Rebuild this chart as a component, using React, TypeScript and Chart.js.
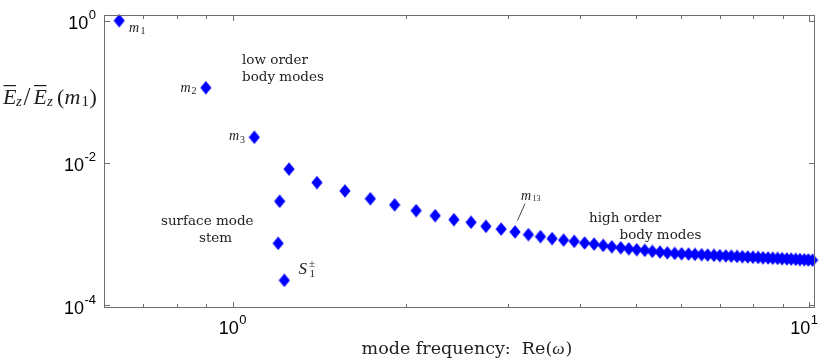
import React, { useEffect, useRef } from "react";
import { Chart, registerables } from "chart.js";

Chart.register(...registerables);

// ---- data ----
const lowOrderFreq = [0.636, 0.899, 1.091];
const lowOrderEz = [1.0, 0.114, 0.0229];

const surfaceFreq = [1.253, 1.207, 1.2, 1.23];
const surfaceEz = [0.00818, 0.00288, 0.000738, 0.000223];

const highOrderFreq = [
  1.401, 1.567, 1.734, 1.911, 2.082, 2.247, 2.421, 2.593, 2.751, 2.924, 3.09, 3.26, 3.421, 3.583,
  3.752, 3.914, 4.08, 4.238, 4.395, 4.548, 4.714, 4.867, 5.024, 5.188, 5.348, 5.514, 5.678, 5.848,
  6.01, 6.18, 6.34, 6.51, 6.67, 6.84, 7.0, 7.17, 7.33, 7.5, 7.66, 7.83, 7.99, 8.16, 8.32, 8.49,
  8.65, 8.82, 8.98, 9.15, 9.31, 9.48, 9.64, 9.81, 9.97, 10.14,
];
const highOrderEz = [
  0.00528, 0.00403, 0.00313, 0.00257, 0.00213, 0.00181, 0.00159, 0.00146, 0.00128, 0.00117,
  0.00107, 0.00098, 0.000918, 0.000861, 0.00082, 0.000787, 0.000747, 0.000721, 0.000691, 0.00066,
  0.000639, 0.000619, 0.0006, 0.000588, 0.000569, 0.000556, 0.000543, 0.000533, 5.27e-4, 5.21e-4,
  5.16e-4, 5.11e-4, 5.06e-4, 5.01e-4, 4.96e-4, 4.92e-4, 4.88e-4, 4.83e-4, 4.79e-4, 4.75e-4,
  4.71e-4, 4.67e-4, 4.63e-4, 4.6e-4, 4.56e-4, 4.53e-4, 4.5e-4, 4.46e-4, 4.43e-4, 4.4e-4, 4.37e-4,
  4.34e-4, 4.31e-4, 4.28e-4,
];

const xMajorTicks = [1, 10];
const xMajorExponents = ["0", "1"];
const xMinorTicks = [0.7, 0.8, 0.9, 2, 3, 4, 5, 6, 7, 8, 9];
const yMajorTicks = [1, 0.01, 0.0001];
const yMajorExponents = ["0", "-2", "-4"];

const xTitle = "mode frequency:  Re(";
const xTitleSymbol = "ω";

const AXIS_COLOR = "#6e6e6e";
const TEXT_COLOR = "#1e1e1e";
const MARK_COLOR = "#0000ff";
const SANS = '"Liberation Sans", Arial, sans-serif';
const SERIF = '"DejaVu Serif", serif';
const MATH = '"Liberation Serif", "Times New Roman", serif';

function makeDiamond(): HTMLCanvasElement {
  const c = document.createElement("canvas");
  c.width = 12;
  c.height = 14;
  const g = c.getContext("2d")!;
  g.fillStyle = MARK_COLOR;
  g.beginPath();
  g.moveTo(6, 0.3);
  g.lineTo(11.6, 7);
  g.lineTo(6, 13.7);
  g.lineTo(0.4, 7);
  g.closePath();
  g.fill();
  return c;
}

function text(ctx: CanvasRenderingContext2D, s: string, x: number, y: number, font: string, align: CanvasTextAlign = "left") {
  ctx.font = font;
  ctx.textAlign = align;
  ctx.textBaseline = "alphabetic";
  ctx.fillText(s, x, y);
  return ctx.measureText(s).width;
}

function powLabel(ctx: CanvasRenderingContext2D, exp: string, x: number, y: number, align: "right" | "center", maxRight = 1e9) {
  const baseFont = `18px ${SANS}`;
  const expFont = `13px ${SANS}`;
  ctx.font = baseFont;
  const bw = ctx.measureText("10").width;
  ctx.font = expFont;
  const ew = ctx.measureText(exp).width;
  const total = bw + ew + 0.5;
  let left = align === "right" ? x - total : x - total / 2;
  if (left + total > maxRight) left = maxRight - total;
  ctx.fillStyle = "#000";
  text(ctx, "10", left, y, baseFont);
  text(ctx, exp, left + bw + 0.5, y - 10, expFont);
}

const decorPlugin = {
  id: "decor",
  afterDraw(chart: any) {
    const ctx: CanvasRenderingContext2D = chart.ctx;
    const xs = chart.scales.x;
    const ys = chart.scales.y;
    const { left, right, top, bottom } = chart.chartArea;
    ctx.save();

    // axes box
    ctx.strokeStyle = AXIS_COLOR;
    ctx.lineWidth = 1;
    ctx.strokeRect(left + 0.5, top + 0.5, right - left - 1, bottom - top - 1);

    // x ticks (bottom & top, pointing inward)
    const xTick = (v: number, len: number) => {
      const px = Math.round(xs.getPixelForValue(v)) + 0.5;
      ctx.beginPath();
      ctx.moveTo(px, bottom - 0.5);
      ctx.lineTo(px, bottom - 0.5 - len);
      ctx.moveTo(px, top + 0.5);
      ctx.lineTo(px, top + 0.5 + len);
      ctx.stroke();
    };
    xMinorTicks.forEach((v) => xTick(v, 3.5));
    xMajorTicks.forEach((v) => xTick(v, 5.5));

    // y ticks (left & right)
    yMajorTicks.forEach((v) => {
      const py = Math.round(ys.getPixelForValue(v)) + 0.5;
      ctx.beginPath();
      ctx.moveTo(left + 0.5, py);
      ctx.lineTo(left + 0.5 + 5.5, py);
      ctx.moveTo(right - 0.5, py);
      ctx.lineTo(right - 0.5 - 5.5, py);
      ctx.stroke();
    });

    // tick labels
    yMajorTicks.forEach((v, i) => {
      const py = ys.getPixelForValue(v);
      powLabel(ctx, yMajorExponents[i], 96, py + 8.5, "right");
    });
    xMajorTicks.forEach((v, i) => {
      const px = xs.getPixelForValue(v);
      powLabel(ctx, xMajorExponents[i], px, bottom + 25.5, "center", 818);
    });

    ctx.fillStyle = TEXT_COLOR;

    // x-axis title
    {
      const f1 = `17.5px ${SERIF}`;
      const f2 = `italic 17.5px ${MATH}`;
      ctx.font = f1;
      const w1 = ctx.measureText(xTitle).width;
      const w3 = ctx.measureText(")").width;
      ctx.font = f2;
      const w2 = ctx.measureText(xTitleSymbol).width + 1;
      const total = w1 + w2 + w3;
      let x = 467 - total / 2;
      const y = 353.5;
      text(ctx, xTitle, x, y, f1);
      x += w1;
      text(ctx, xTitleSymbol, x, y, f2);
      x += w2;
      text(ctx, ")", x, y, f1);
    }

    // y-axis title  E̅z / E̅z(m1)
    {
      const big = `italic 22px ${MATH}`;
      const up = `22px ${MATH}`;
      const sub = `italic 15px ${MATH}`;
      const subUp = `15px ${MATH}`;
      text(ctx, "E", 3, 103.5, big);
      ctx.fillRect(3.5, 85, 12.5, 1.2);
      text(ctx, "z", 16, 105.5, sub);
      text(ctx, "/", 23.5, 105, `25px ${MATH}`);
      text(ctx, "E", 33.5, 103.5, big);
      ctx.fillRect(34, 85, 12.5, 1.2);
      text(ctx, "z", 47, 105.5, sub);
      text(ctx, "(", 57, 104, up);
      text(ctx, "m", 64.5, 103.5, big);
      text(ctx, "1", 81.5, 106, subUp);
      text(ctx, ")", 89.5, 104, up);
    }

    // annotations
    const ann = `13.5px ${SERIF}`;
    text(ctx, "low order", 242, 63.5, ann);
    text(ctx, "body modes", 242, 80.5, ann);
    text(ctx, "surface mode", 161, 224.5, ann);
    text(ctx, "stem", 199, 241.5, ann);
    text(ctx, "high order", 589, 222, ann);
    text(ctx, "body modes", 619.5, 239, ann);

    const mi = `italic 14px ${MATH}`;
    const sm = `10px ${MATH}`;
    text(ctx, "m", 129, 31.5, mi);
    text(ctx, "1", 140.5, 34, sm);
    text(ctx, "m", 180.5, 91.5, mi);
    text(ctx, "2", 191.5, 94, sm);
    text(ctx, "m", 229, 140, mi);
    text(ctx, "3", 240, 142.5, sm);

    text(ctx, "m", 521, 199.5, mi);
    text(ctx, "13", 532.5, 201, `8px ${MATH}`);
    ctx.strokeStyle = "#444";
    ctx.lineWidth = 1;
    ctx.beginPath();
    ctx.moveTo(525, 203.5);
    ctx.lineTo(517.5, 220.5);
    ctx.stroke();

    text(ctx, "S", 298.5, 273.5, `italic 17px ${MATH}`);
    text(ctx, "±", 309, 267, `11px ${MATH}`);
    text(ctx, "1", 309.5, 277, `11px ${MATH}`);

    ctx.restore();
  },
};

export default function App() {
  const ref = useRef<HTMLCanvasElement | null>(null);

  useEffect(() => {
    if (!ref.current) return;
    const diamond = makeDiamond();
    const toPts = (xs: number[], ys: number[]) => xs.map((x, i) => ({ x, y: ys[i] }));
    const points = [
      ...toPts(lowOrderFreq, lowOrderEz),
      ...toPts(surfaceFreq, surfaceEz),
      ...toPts(highOrderFreq, highOrderEz),
    ];
    const chart = new Chart(ref.current, {
      type: "scatter",
      data: {
        datasets: [
          {
            data: points,
            pointStyle: diamond as any,
            pointRadius: 6,
            backgroundColor: MARK_COLOR,
            borderColor: MARK_COLOR,
            clip: false as any,
          },
        ],
      },
      options: {
        animation: false,
        responsive: false,
        devicePixelRatio: 1,
        layout: { padding: { left: 104, top: 15, right: 15, bottom: 50 } },
        scales: {
          x: { type: "logarithmic", min: 0.5985, max: 10.24, display: false },
          y: { type: "logarithmic", min: 9.1e-5, max: 1.2, display: false },
        },
        plugins: { legend: { display: false }, tooltip: { enabled: false } },
      },
      plugins: [decorPlugin],
    });
    return () => chart.destroy();
  }, []);

  return (
    <div style={{ position: "fixed", left: 0, top: 0, width: 830, height: 358, background: "#fff" }}>
      <canvas ref={ref} width={830} height={358} style={{ display: "block", width: 830, height: 358 }} />
    </div>
  );
}
